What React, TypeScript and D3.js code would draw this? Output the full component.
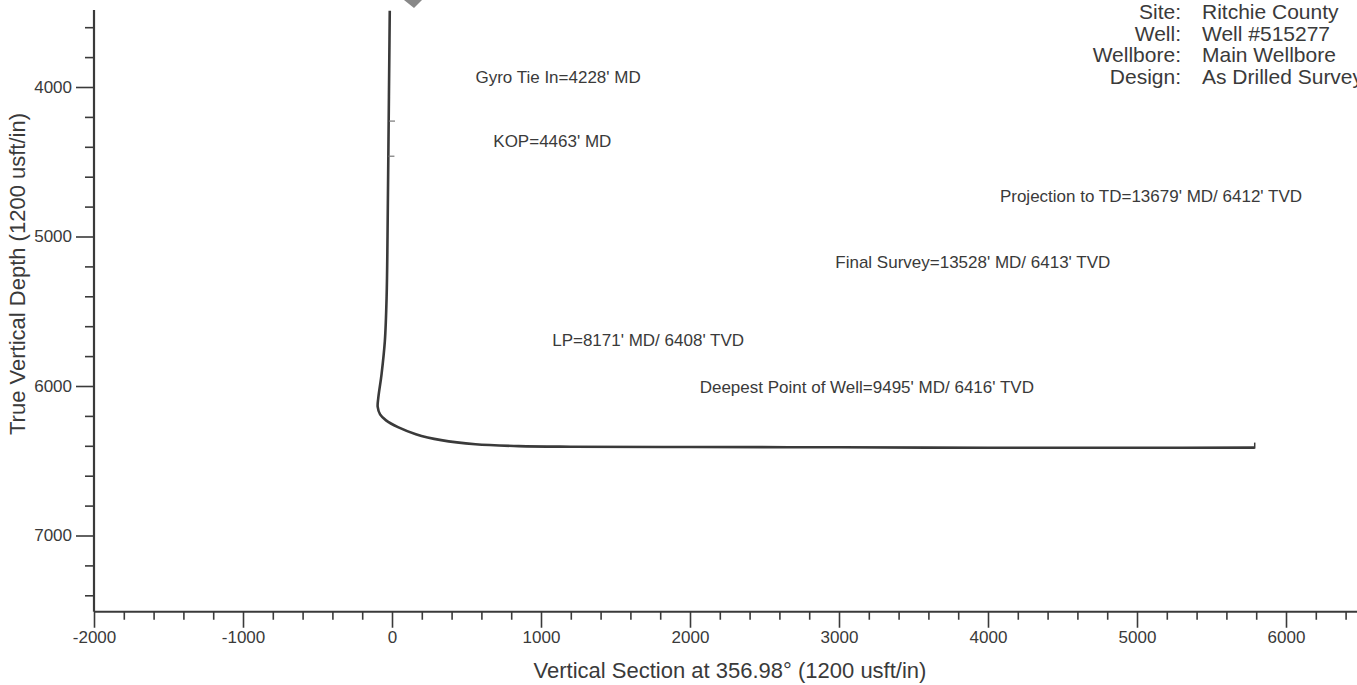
import React, { useEffect, useRef } from "react";
import * as d3 from "d3";

// well path: vertical section (usft) vs true vertical depth (usft)
const pathVS = [-15, -18, -22, -26, -30, -36, -48, -70, -92, -96, -80, -40, 40, 160, 330, 560, 850, 1200, 2000, 3000, 4000, 5000, 5790];
const pathTVD = [3490, 3800, 4200, 4600, 5000, 5400, 5700, 5920, 6080, 6140, 6190, 6230, 6275, 6322, 6362, 6390, 6402, 6406, 6408, 6410, 6413, 6413, 6412];

// survey markers along the path
const markerNames = ["Gyro Tie In", "KOP"];
const markerVS = [-20, -24];
const markerTVD = [4228, 4463];

// plot annotations (text anchored at data coords)
const noteText = [
  "Gyro Tie In=4228' MD",
  "KOP=4463' MD",
  "Projection to TD=13679' MD/ 6412' TVD",
  "Final Survey=13528' MD/ 6413' TVD",
  "LP=8171' MD/ 6408' TVD",
  "Deepest Point of Well=9495' MD/ 6416' TVD",
];
const noteVS = [560, 680, 4080, 2975, 1075, 2065];
const noteTVD = [3975, 4400, 4770, 5210, 5730, 6045];

const headerLabels = ["Site:", "Well:", "Wellbore:", "Design:"];
const headerValues = ["Ritchie County", "Well #515277", "Main Wellbore", "As Drilled Survey"];

const xMajor = [-2000, -1000, 0, 1000, 2000, 3000, 4000, 5000, 6000];
const yMajor = [4000, 5000, 6000, 7000];

const W = 1357;
const H = 685;
const INK = "#3a3a3a";
const FONT = "'Liberation Sans', Arial, sans-serif";

export default function App() {
  const svgRef = useRef<SVGSVGElement>(null);

  useEffect(() => {
    const svg = d3.select(svgRef.current);
    svg.selectAll("*").remove();

    const x = d3.scaleLinear().domain([-2000, 6000]).range([94, 1286]);
    const y = d3.scaleLinear().domain([4000, 7000]).range([87, 535.5]);

    const axisY = y(7510);
    const axisX = x(-2000);
    const topY = y(3485);

    // minor ticks every 200
    const xMinor = d3.range(-2000, 6600, 200).filter((v) => !xMajor.includes(v));
    const yMinor = d3.range(3600, 7500, 200).filter((v) => !yMajor.includes(v));

    const g = svg.append("g").attr("font-family", FONT).attr("fill", INK);

    // x axis
    const xa = g.append("g").attr("transform", `translate(0,${axisY})`);
    xa.call(
      d3.axisBottom(x).tickValues(xMajor).tickSize(16).tickPadding(3).tickFormat((d) => String(d))
    );
    xa.append("g").call(d3.axisBottom(x).tickValues(xMinor).tickSize(8).tickFormat(() => ""));
    xa.selectAll(".domain").remove();
    xa.append("line").attr("x1", axisX).attr("x2", W).attr("stroke", INK).attr("stroke-width", 2.2);

    // y axis
    const ya = g.append("g").attr("transform", `translate(${axisX},0)`);
    ya.call(d3.axisLeft(y).tickValues(yMajor).tickSize(18).tickPadding(4).tickFormat((d) => String(d)));
    ya.append("g").call(d3.axisLeft(y).tickValues(yMinor).tickSize(9).tickFormat(() => ""));
    ya.selectAll(".domain").remove();
    ya.append("line").attr("y1", topY).attr("y2", axisY).attr("stroke", INK).attr("stroke-width", 2.2);

    g.selectAll(".tick line").attr("stroke", INK).attr("stroke-width", 1.6);
    g.selectAll(".tick text")
      .attr("fill", INK)
      .style("font-size", "17px")
      .style("font-family", FONT);

    // axis titles
    g.append("text")
      .attr("x", 730)
      .attr("y", 678)
      .attr("text-anchor", "middle")
      .style("font-size", "22px")
      .text("Vertical Section at 356.98° (1200 usft/in)");

    g.append("text")
      .attr("transform", `translate(25,274) rotate(-90)`)
      .attr("text-anchor", "middle")
      .style("font-size", "22px")
      .text("True Vertical Depth (1200 usft/in)");

    // well path
    const pts: [number, number][] = pathVS.map((v, i) => [v, pathTVD[i]]);
    const line = d3
      .line<[number, number]>()
      .x((d) => x(d[0]))
      .y((d) => y(d[1]))
      .curve(d3.curveCatmullRom.alpha(0.5));
    g.append("path")
      .attr("d", line(pts))
      .attr("fill", "none")
      .attr("stroke", INK)
      .attr("stroke-width", 2.6);

    // end-of-path tick
    g.append("line")
      .attr("x1", x(pathVS[pathVS.length - 1]))
      .attr("x2", x(pathVS[pathVS.length - 1]))
      .attr("y1", y(pathTVD[pathTVD.length - 1]) - 5)
      .attr("y2", y(pathTVD[pathTVD.length - 1]) + 1)
      .attr("stroke", INK)
      .attr("stroke-width", 1.5);

    // survey marker ticks
    g.selectAll(".marker")
      .data(markerNames)
      .enter()
      .append("line")
      .attr("class", "marker")
      .attr("x1", (d, i) => x(markerVS[i]))
      .attr("x2", (d, i) => x(markerVS[i]) + 6)
      .attr("y1", (d, i) => y(markerTVD[i]))
      .attr("y2", (d, i) => y(markerTVD[i]))
      .attr("stroke", "#777")
      .attr("stroke-width", 1.2);

    // annotations
    g.selectAll(".note")
      .data(noteText)
      .enter()
      .append("text")
      .attr("class", "note")
      .attr("x", (d, i) => x(noteVS[i]))
      .attr("y", (d, i) => y(noteTVD[i]))
      .style("font-size", "17px")
      .text((d) => d);

    // header block
    const hdr = g.append("g").style("font-size", "21px");
    hdr
      .selectAll(".hl")
      .data(headerLabels)
      .enter()
      .append("text")
      .attr("class", "hl")
      .attr("x", 1181)
      .attr("y", (d, i) => 19 + i * 21.7)
      .attr("text-anchor", "end")
      .text((d) => d);
    hdr
      .selectAll(".hv")
      .data(headerValues)
      .enter()
      .append("text")
      .attr("class", "hv")
      .attr("x", 1202)
      .attr("y", (d, i) => 19 + i * 21.7)
      .text((d) => d);

    // partly cropped arrow mark at the top
    g.append("path")
      .attr("d", "M404,0 L422,0 L414,8 Z")
      .attr("fill", "#888");
  }, []);

  return (
    <svg
      ref={svgRef}
      width={W}
      height={H}
      style={{ display: "block", position: "absolute", left: 0, top: 0, background: "#fff" }}
    />
  );
}
